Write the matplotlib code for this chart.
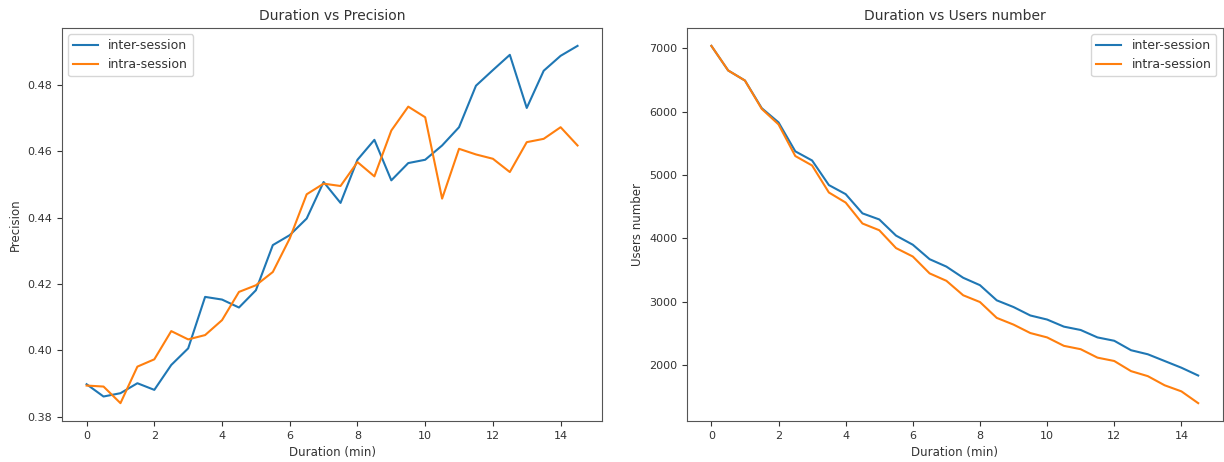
#imports
import matplotlib
matplotlib.use("Agg")
import matplotlib.pyplot as plt
import numpy as np

#data
duration = np.arange(0, 15, 0.5)

precision_inter = [0.3898, 0.3861, 0.3871, 0.3901, 0.3881, 0.3956, 0.4006, 0.4161,
                   0.4153, 0.4129, 0.4181, 0.4317, 0.4347, 0.4397, 0.4507, 0.4444,
                   0.4574, 0.4634, 0.4512, 0.4564, 0.4574, 0.4617, 0.4672, 0.4797,
                   0.4844, 0.4890, 0.4730, 0.4842, 0.4887, 0.4917]
precision_intra = [0.3894, 0.3891, 0.3841, 0.3951, 0.3973, 0.4058, 0.4033, 0.4046,
                   0.4091, 0.4176, 0.4196, 0.4236, 0.4337, 0.4470, 0.4502, 0.4495,
                   0.4567, 0.4524, 0.4662, 0.4734, 0.4702, 0.4457, 0.4607, 0.4590,
                   0.4577, 0.4537, 0.4627, 0.4637, 0.4672, 0.4617]

users_inter = [7037, 6649, 6490, 6054, 5830, 5373, 5229, 4841, 4698, 4395,
               4299, 4044, 3900, 3672, 3555, 3379, 3262, 3023, 2917, 2784,
               2720, 2608, 2555, 2438, 2385, 2236, 2172, 2066, 1960, 1837]
users_intra = [7037, 6649, 6490, 6043, 5798, 5299, 5150, 4724, 4565, 4235,
               4129, 3847, 3714, 3448, 3331, 3103, 2996, 2746, 2640, 2507,
               2438, 2305, 2252, 2119, 2066, 1906, 1827, 1683, 1587, 1401]

plt.rcParams['font.family'] = ['DejaVu Sans']
plt.rcParams['font.size'] = 8
plt.rcParams['axes.edgecolor'] = '#555555'
plt.rcParams['xtick.color'] = '#333333'
plt.rcParams['ytick.color'] = '#333333'
plt.rcParams['text.color'] = '#333333'
plt.rcParams['axes.labelcolor'] = '#333333'
plt.rcParams['axes.labelsize'] = 8.5
plt.rcParams['legend.fontsize'] = 9

fig = plt.figure(figsize=(12.24, 4.62), dpi=100)
ax1 = fig.add_axes([0.0507, 0.0887, 0.4412, 0.8507])
ax2 = fig.add_axes([0.5613, 0.0887, 0.4375, 0.8507])

#precision
ax1.plot(duration, precision_inter, color="tab:blue", lw=1.5, label="inter-session")
ax1.plot(duration, precision_intra, color="tab:orange", lw=1.5, label="intra-session")
ax1.set_title("Duration vs Precision", fontsize=10)
ax1.set_xlabel("Duration (min)")
ax1.set_ylabel("Precision")
ax1.set_yticks([0.38, 0.40, 0.42, 0.44, 0.46, 0.48])
ax1.legend(loc="upper left")

#users number
ax2.plot(duration, users_inter, color="tab:blue", lw=1.5, label="inter-session")
ax2.plot(duration, users_intra, color="tab:orange", lw=1.5, label="intra-session")
ax2.set_title("Duration vs Users number", fontsize=10)
ax2.set_xlabel("Duration (min)")
ax2.set_ylabel("Users number")
ax2.legend(loc="upper right")

for ax in (ax1, ax2):
    ax.set_xticks([0, 2, 4, 6, 8, 10, 12, 14])

fig.savefig("out.png", dpi=100)
